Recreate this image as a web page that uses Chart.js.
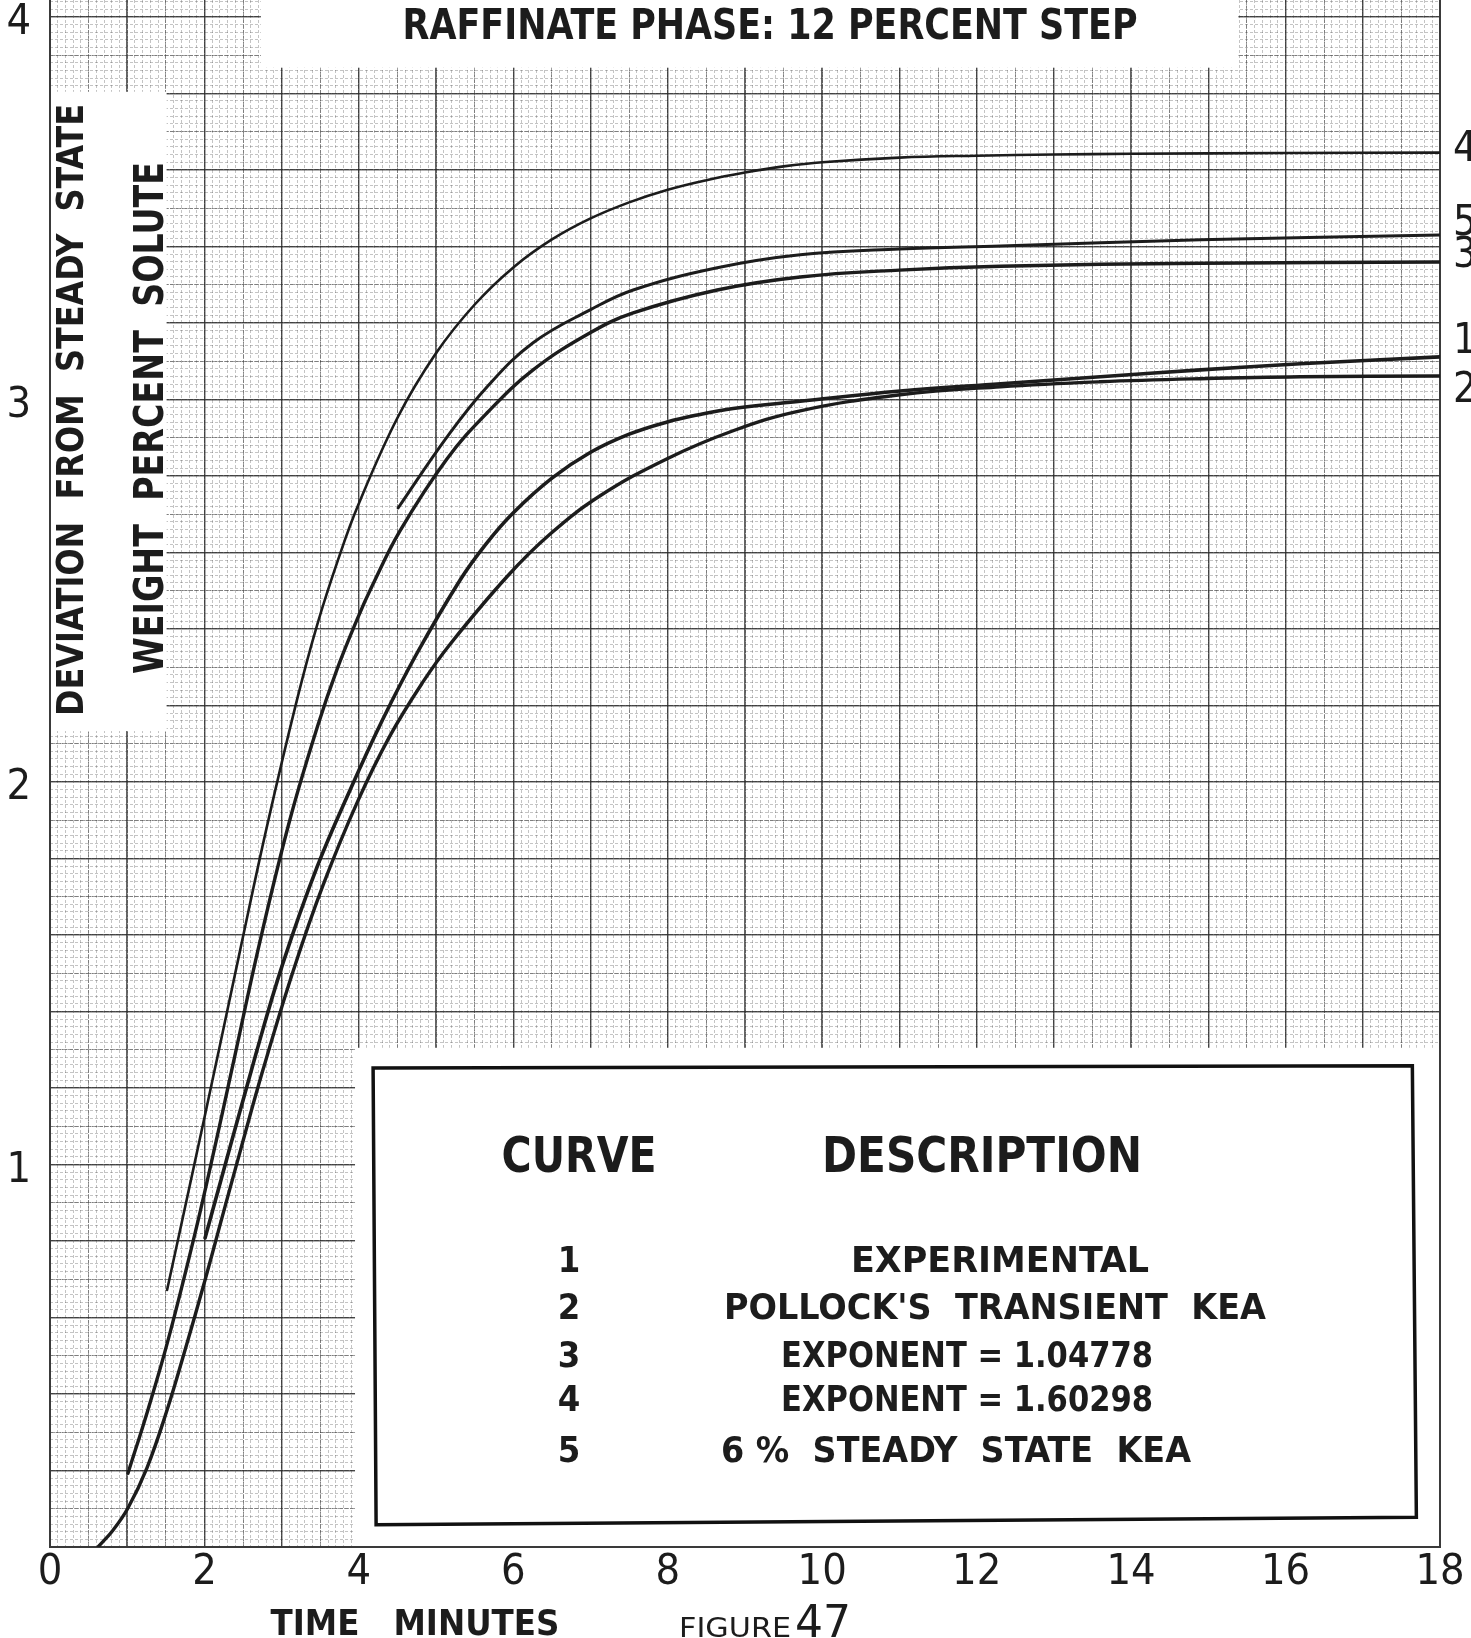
<!DOCTYPE html>
<html>
<head>
<meta charset="utf-8">
<script src="https://cdn.jsdelivr.net/npm/chart.js@4.4.1/dist/chart.umd.min.js"></script>
<style>
html,body{margin:0;padding:0;background:#ffffff;}
#wrap{position:relative;width:1471px;height:1638px;overflow:hidden;background:#fff;}
canvas{display:block;}
</style>
</head>
<body>
<div id="wrap"><canvas id="c" width="1471" height="1638"></canvas></div>
<script>
// ---------------- DATA ----------------
const chartTitle = 'RAFFINATE PHASE: 12 PERCENT STEP';
const yTitleOuter = 'DEVIATION  FROM  STEADY  STATE';
const yTitleInner = 'WEIGHT  PERCENT  SOLUTE';
const xTitle = 'TIME   MINUTES';
const figureWord = 'FIGURE';
const figureNumber = '47';

const xTickValues = [0, 2, 4, 6, 8, 10, 12, 14, 16, 18];
const xTickLabels = ['0', '2', '4', '6', '8', '10', '12', '14', '16', '18'];
const yTickValues = [1, 2, 3, 4];
const yTickLabels = ['1', '2', '3', '4'];

const legendHeaders = ['CURVE', 'DESCRIPTION'];
const curveIds = ['1', '2', '3', '4', '5'];
const curveDescriptions = ['EXPERIMENTAL', "POLLOCK'S  TRANSIENT  KEA", 'EXPONENT = 1.04778', 'EXPONENT = 1.60298', '6 %  STEADY  STATE  KEA'];

// time (minutes) and deviation (weight percent solute)
const curve1Time  = [2.008, 2.681, 3.018, 3.459, 3.886, 4.313, 4.754, 5.311, 5.650, 5.997, 6.500, 6.995, 7.500, 7.992, 8.400, 8.847, 9.715, 11.01, 12.31, 13.60, 14.90, 16.19, 18];
const curve1Value = [0.808, 1.299, 1.527, 1.778, 1.979, 2.165, 2.337, 2.528, 2.623, 2.703, 2.794, 2.861, 2.909, 2.941, 2.960, 2.976, 2.995, 3.022, 3.041, 3.059, 3.077, 3.093, 3.111];

const curve2Time  = [0.622, 0.816, 1.010, 1.256, 1.516, 1.749, 2.008, 2.202, 2.461, 2.759, 3.148, 3.536, 3.977, 4.404, 4.832, 5.181, 5.920, 6.477, 7.124, 7.992, 8.847, 9.715, 11.01, 12.31, 13.60, 14.90, 16.19, 18];
const curve2Value = [0.000, 0.044, 0.102, 0.207, 0.358, 0.515, 0.698, 0.842, 1.033, 1.248, 1.505, 1.730, 1.946, 2.121, 2.262, 2.360, 2.537, 2.648, 2.748, 2.845, 2.918, 2.970, 3.012, 3.033, 3.046, 3.054, 3.059, 3.061];

const curve3Time  = [1.010, 1.269, 1.528, 1.878, 2.137, 2.358, 2.720, 3.109, 3.472, 3.718, 3.977, 4.171, 4.534, 5.142, 5.661, 6.256, 6.995, 7.552, 8.640, 9.715, 11.00, 12.31, 14.90, 18];
const curve3Value = [0.193, 0.359, 0.540, 0.820, 1.048, 1.251, 1.584, 1.903, 2.150, 2.295, 2.425, 2.512, 2.657, 2.845, 2.965, 3.077, 3.174, 3.226, 3.286, 3.320, 3.338, 3.348, 3.356, 3.359];

const curve4Time  = [1.516, 1.852, 2.202, 2.461, 2.811, 3.199, 3.459, 3.731, 3.990, 4.500, 5.000, 5.500, 6.000, 6.500, 7.000, 7.500, 8.000, 8.500, 9.000, 9.500, 10.00, 11.00, 12.00, 13.00, 14.00, 16.00, 18];
const curve4Value = [0.672, 0.984, 1.313, 1.559, 1.885, 2.215, 2.410, 2.581, 2.723, 2.952, 3.121, 3.248, 3.345, 3.418, 3.473, 3.515, 3.548, 3.573, 3.593, 3.609, 3.620, 3.632, 3.637, 3.640, 3.642, 3.644, 3.645];

const curve5Time  = [4.508, 5.142, 5.661, 6.256, 6.995, 7.552, 8.640, 9.715, 11.00, 12.31, 14.90, 18];
const curve5Value = [2.716, 2.902, 3.033, 3.148, 3.234, 3.286, 3.344, 3.378, 3.393, 3.401, 3.417, 3.430];

// ---------------- LAYOUT / STYLE ----------------
const FONT = "'Liberation Sans Narrow','DejaVu Sans Condensed','Liberation Sans',sans-serif";
const INK = '#1c1c1c';
const X_MAX = 18, Y_MAX = 4.044;

const toPoints = (xs, ys) => xs.map((t, i) => ({x: t, y: ys[i]}));
const curveSeries = [
  {id: '1', pts: toPoints(curve1Time, curve1Value), w: 3.6, off: -15},
  {id: '2', pts: toPoints(curve2Time, curve2Value), w: 3.4, off: 15},
  {id: '3', pts: toPoints(curve3Time, curve3Value), w: 3.4, off: -6},
  {id: '4', pts: toPoints(curve4Time, curve4Value), w: 2.6, off: -3},
  {id: '5', pts: toPoints(curve5Time, curve5Value), w: 3.0, off: -11}
];

// white paper patches (data units)
const patches = [
  {x0: 2.73, x1: 15.39, y0: 3.867, y1: Y_MAX},
  {x0: 0.0, x1: 1.51, y0: 2.133, y1: 3.804},
  {x0: 3.95, x1: 18.0, y0: 0.0, y1: 1.305}
];
const legendFrame = [[4.184, 1.252], [17.642, 1.258], [17.694, 0.078], [4.223, 0.058]];

function gridAxis(axis, step, color, width, dash) {
  const max = axis === 'x' ? X_MAX : Y_MAX;
  return {
    type: 'linear', position: axis === 'x' ? 'bottom' : 'left', axis: axis,
    min: 0, max: max, display: true,
    afterBuildTicks: s => {
      const t = [];
      for (let i = 0; i * step <= max + 1e-9; i++) t.push({value: +(i * step).toFixed(4)});
      s.ticks = t;
    },
    afterFit: s => {
      if (axis === 'x') s.height = 0; else s.width = 0;
      s.paddingTop = s.paddingBottom = s.paddingLeft = s.paddingRight = 0;
    },
    ticks: {display: false},
    border: {display: false, dash: dash},
    grid: {color: color, lineWidth: width, drawTicks: false, drawOnChartArea: true}
  };
}

function fitText(ctx, text, cx, cy, size, weight, targetW, rotate) {
  ctx.save();
  ctx.font = weight + ' ' + size + 'px ' + FONT;
  const w = ctx.measureText(text).width;
  const sx = targetW ? targetW / w : 1;
  ctx.translate(cx, cy);
  if (rotate) ctx.rotate(rotate);
  ctx.scale(sx, 1);
  ctx.fillStyle = INK;
  ctx.textAlign = 'center';
  ctx.textBaseline = 'alphabetic';
  ctx.fillText(text, 0, size * 0.36);
  ctx.restore();
}

function leftText(ctx, text, x, baseline, size, weight, targetW) {
  ctx.save();
  ctx.font = weight + ' ' + size + 'px ' + FONT;
  const w = ctx.measureText(text).width;
  ctx.translate(x, baseline);
  ctx.scale(targetW / w, 1);
  ctx.fillStyle = INK;
  ctx.textAlign = 'left';
  ctx.textBaseline = 'alphabetic';
  ctx.fillText(text, 0, 0);
  ctx.restore();
}

const paperPlugin = {
  id: 'paper',
  beforeDatasetsDraw(chart) {
    const ctx = chart.ctx, xs = chart.scales.x, ys = chart.scales.y, a = chart.chartArea;
    ctx.save();
    ctx.fillStyle = '#ffffff';
    patches.forEach(p => {
      const x0 = xs.getPixelForValue(p.x0), x1 = xs.getPixelForValue(p.x1);
      const y0 = ys.getPixelForValue(p.y1), y1 = ys.getPixelForValue(p.y0);
      ctx.fillRect(x0, y0, x1 - x0, y1 - y0);
    });
    ctx.strokeStyle = '#3a3a3a';
    ctx.lineWidth = 2;
    ctx.beginPath();
    ctx.moveTo(a.left, a.top); ctx.lineTo(a.left, a.bottom); ctx.lineTo(a.right, a.bottom); ctx.lineTo(a.right, a.top);
    ctx.stroke();
    ctx.strokeStyle = '#111';
    ctx.lineWidth = 3.5;
    ctx.beginPath();
    legendFrame.forEach((c, i) => {
      const X = xs.getPixelForValue(c[0]), Y = ys.getPixelForValue(c[1]);
      if (i === 0) ctx.moveTo(X, Y); else ctx.lineTo(X, Y);
    });
    ctx.closePath();
    ctx.stroke();
    ctx.restore();

    fitText(ctx, chartTitle, 770, 24, 43, 'bold', 735);
    fitText(ctx, yTitleOuter, 70, 410, 37, 'bold', 612, -Math.PI / 2);
    fitText(ctx, yTitleInner, 148, 418, 41, 'bold', 512, -Math.PI / 2);
    fitText(ctx, legendHeaders[0], 579, 1154, 50, 'bold', 155);
    fitText(ctx, legendHeaders[1], 982, 1154, 50, 'bold', 320);
    const rowY = [1259, 1306, 1354, 1398, 1449];
    const descC = [1000, 995, 967, 967, 956];
    const descW = [298, 542, 372, 372, 470];
    curveIds.forEach((id, i) => {
      fitText(ctx, id, 569, rowY[i], 36, 'bold', null);
      fitText(ctx, curveDescriptions[i], descC[i], rowY[i], 36, 'bold', descW[i]);
    });
  },
  afterDatasetsDraw(chart) {
    const ctx = chart.ctx;
    chart.data.datasets.forEach((ds, i) => {
      const meta = chart.getDatasetMeta(i);
      const last = meta.data[meta.data.length - 1];
      ctx.save();
      ctx.font = '42px ' + FONT;
      ctx.fillStyle = INK;
      ctx.textAlign = 'left';
      ctx.textBaseline = 'middle';
      ctx.fillText(curveSeries[i].id, last.x + 13, last.y + curveSeries[i].off);
      ctx.restore();
    });
    fitText(ctx, xTitle, 415, 1622, 36, 'bold', 289);
    leftText(ctx, figureWord, 679, 1637, 27, 'normal', 112);
    leftText(ctx, figureNumber, 795, 1637, 44, 'normal', 56);
  }
};

const ctx = document.getElementById('c').getContext('2d');
new Chart(ctx, {
  type: 'line',
  data: {
    datasets: curveSeries.map(c => ({
      label: 'Curve ' + c.id,
      data: c.pts,
      borderColor: INK,
      borderWidth: c.w,
      pointRadius: 0,
      fill: false,
      tension: 0.4,
      cubicInterpolationMode: 'default',
      borderCapStyle: 'round',
      borderJoinStyle: 'round',
      xAxisID: 'x', yAxisID: 'y'
    }))
  },
  options: {
    responsive: false,
    animation: false,
    devicePixelRatio: 1,
    layout: {padding: {left: 0, right: 31, top: 0, bottom: 0}},
    plugins: {legend: {display: false}, tooltip: {enabled: false}, title: {display: false}},
    scales: {
      xMinor: gridAxis('x', 0.1, 'rgba(60,60,60,0.30)', 1, [3, 2]),
      yMinor: gridAxis('y', 0.02, 'rgba(60,60,60,0.30)', 1, [3, 2]),
      xHalf: gridAxis('x', 0.5, 'rgba(50,50,50,0.48)', 1, [5, 1]),
      yHalf: gridAxis('y', 0.1, 'rgba(50,50,50,0.48)', 1, [5, 1]),
      xMajor: gridAxis('x', 1, 'rgba(40,40,40,0.72)', 1.5, []),
      yMajor: gridAxis('y', 0.2, 'rgba(40,40,40,0.72)', 1.5, []),
      x: {
        type: 'linear', position: 'bottom', min: 0, max: X_MAX,
        afterBuildTicks: s => { s.ticks = xTickValues.map(v => ({value: v})); },
        afterFit: s => { s.height = 91; s.paddingLeft = 0; s.paddingRight = 0; },
        ticks: {
          autoSkip: false, maxRotation: 0, padding: 0, color: INK,
          font: {family: FONT, size: 43},
          callback: (v) => xTickLabels[xTickValues.indexOf(v)]
        },
        grid: {display: false, drawTicks: false},
        border: {display: false}
      },
      y: {
        type: 'linear', position: 'left', min: 0, max: Y_MAX,
        afterBuildTicks: s => { s.ticks = yTickValues.map(v => ({value: v})); },
        afterFit: s => { s.width = 50; s.paddingTop = 0; s.paddingBottom = 0; },
        ticks: {
          autoSkip: false, padding: 19, labelOffset: 6, color: INK,
          font: {family: FONT, size: 43},
          callback: (v) => yTickLabels[yTickValues.indexOf(v)]
        },
        grid: {display: false, drawTicks: false},
        border: {display: false}
      }
    }
  },
  plugins: [paperPlugin]
});
</script>
</body>
</html>
